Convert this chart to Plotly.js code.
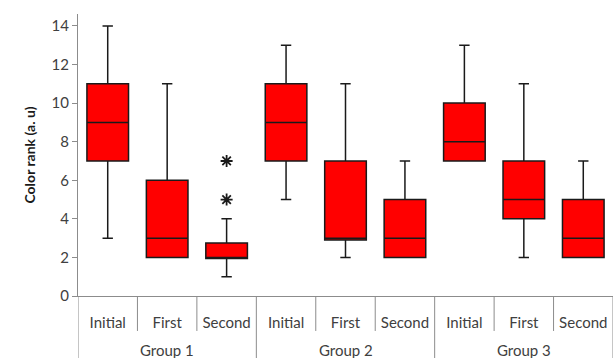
<!DOCTYPE html>
<html>
<head>
<meta charset="utf-8">
<script src="https://cdn.plot.ly/plotly-3.0.1.min.js"></script>
<style>html,body{margin:0;padding:0;background:#fff;}#chart{width:615px;height:358px;}</style>
</head>
<body>
<div id="chart"></div>
<script>
const groupNames = ["Group 1","Group 2","Group 3"];
const groups = ["Group 1","Group 1","Group 1","Group 2","Group 2","Group 2","Group 3","Group 3","Group 3"];
const stages = ["Initial","First","Second","Initial","First","Second","Initial","First","Second"];
const lowerWhisker = [3, 2, 1, 5, 2, 2, 7, 2, 2];
const q1Values     = [7, 2, 1.95, 7, 2.9, 2, 7, 4, 2];
const medianValues = [9, 3, 2, 9, 3, 3, 8, 5, 3];
const q3Values     = [11, 6, 2.75, 11, 7, 5, 10, 7, 5];
const upperWhisker = [14, 11, 4, 13, 11, 7, 13, 11, 7];
const outlierGroups = ["Group 1","Group 1"];
const outlierStages = ["Second","Second"];
const outlierValues = [5, 7];
const yTicks = [0, 2, 4, 6, 8, 10, 12, 14];

// category index positions derived from the category arrays
const idx = stages.map((s, i) => i);
const outlierIdx = outlierValues.map((v, k) =>
  groups.findIndex((g, i) => g === outlierGroups[k] && stages[i] === outlierStages[k]));

const traces = [
  {
    type: 'box',
    x: idx,
    q1: q1Values,
    median: medianValues,
    q3: q3Values,
    lowerfence: lowerWhisker,
    upperfence: upperWhisker,
    width: 0.7,
    fillcolor: '#ff0000',
    line: {color: '#1a1a1a', width: 1.5},
    whiskerwidth: 0.25,
    boxpoints: false,
    hoverinfo: 'skip',
    showlegend: false
  },
  {
    type: 'scatter',
    mode: 'markers',
    x: outlierIdx,
    y: outlierValues,
    marker: {symbol: 'asterisk-open', size: 10, color: '#1a1a1a', line: {color: '#1a1a1a', width: 1.8}},
    hoverinfo: 'skip',
    showlegend: false
  }
];

const sepColor = '#8c8c8c';
const textColor = '#404040';
const shapes = [];
// short separators between categories, long ones between groups
for (let i = 0; i <= stages.length; i++) {
  const isGroupEdge = i === 0 || i === stages.length || groups[i] !== groups[i - 1];
  shapes.push({
    type: 'line', xref: 'x', yref: 'paper',
    x0: i - 0.5, x1: i - 0.5, y0: 0, y1: isGroupEdge ? -0.23 : -0.124,
    line: {color: sepColor, width: 1}
  });
}

const annotations = groupNames.map(g => {
  const members = idx.filter(i => groups[i] === g);
  const center = (members[0] + members[members.length - 1]) / 2;
  return {
    text: g, xref: 'x', yref: 'paper', x: center, y: -0.19,
    xanchor: 'center', yanchor: 'middle', showarrow: false,
    font: {family: 'Lato, sans-serif', size: 15, color: textColor}
  };
});

const layout = {
  width: 615, height: 358,
  margin: {l: 78, r: 2, t: 14, b: 62},
  paper_bgcolor: '#fff', plot_bgcolor: '#fff',
  font: {family: 'Lato, "DejaVu Sans", sans-serif', size: 14, color: textColor},
  xaxis: {
    range: [-0.5, stages.length - 0.5],
    tickvals: idx, ticktext: stages,
    showline: true, linecolor: sepColor, linewidth: 1,
    ticks: '', ticklabelstandoff: 13,
    showgrid: false, zeroline: false,
    tickfont: {family: 'Lato, sans-serif', size: 15, color: textColor}
  },
  yaxis: {
    range: [0, 14.62],
    tickvals: yTicks,
    showline: true, linecolor: sepColor, linewidth: 1,
    ticks: 'outside', ticklen: 5, tickcolor: sepColor,
    showgrid: false, zeroline: false,
    tickfont: {family: 'Lato, sans-serif', size: 15, color: textColor},
    title: {text: 'Color rank (a. u)', font: {family: 'Lato, sans-serif', size: 14, color: '#1a1a1a', weight: 'bold'}, standoff: 12}
  },
  shapes: shapes,
  annotations: annotations
};

Plotly.newPlot('chart', traces, layout, {displayModeBar: false, staticPlot: true});
</script>
</body>
</html>
